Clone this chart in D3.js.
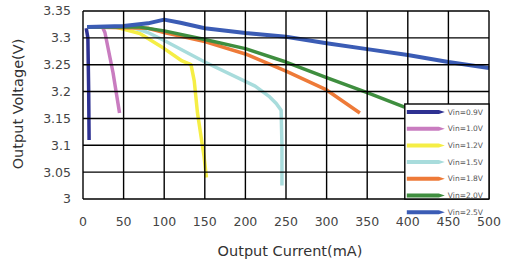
<!DOCTYPE html>
<html>
<head>
<meta charset="utf-8">
<script src="https://cdn.jsdelivr.net/npm/d3@7"></script>
<style>
  body { margin: 0; background: #fff; }
  svg { display: block; }
</style>
</head>
<body>
<div id="chart"></div>
<script>
// Series names and colours (legend order)
const seriesNames = ["Vin=0.9V", "Vin=1.0V", "Vin=1.2V", "Vin=1.5V", "Vin=1.8V", "Vin=2.0V", "Vin=2.5V"];
const seriesColors = ["#2e3192", "#c97cc0", "#f5ee45", "#a8dcdc", "#ee7a38", "#3f8e3f", "#3b5cb5"];

// [output current mA, output voltage V]
const vin09 = [[4, 3.318], [6, 3.3], [7, 3.2], [7.5, 3.11]];
const vin10 = [[5, 3.32], [24, 3.32], [27, 3.31], [37, 3.235], [45, 3.16]];
const vin12 = [[5, 3.32], [40, 3.32], [70, 3.308], [100, 3.28], [122, 3.257], [133, 3.25],
               [137, 3.22], [141, 3.16], [145, 3.12], [149, 3.08], [152, 3.04]];
const vin15 = [[5, 3.32], [60, 3.32], [80, 3.31], [100, 3.295], [150, 3.255], [212, 3.21],
               [230, 3.19], [238, 3.178], [244, 3.165], [245, 3.1], [245, 3.025]];
const vin18 = [[5, 3.32], [80, 3.318], [100, 3.31], [150, 3.293], [200, 3.27], [250, 3.238],
               [300, 3.203], [341, 3.16]];
const vin20 = [[5, 3.32], [70, 3.32], [100, 3.313], [150, 3.297], [200, 3.28], [250, 3.255],
               [300, 3.226], [350, 3.198], [396, 3.171]];
const vin25 = [[5, 3.32], [50, 3.322], [80, 3.327], [100, 3.334], [120, 3.328], [150, 3.318],
               [200, 3.309], [250, 3.302], [300, 3.29], [350, 3.279], [400, 3.268],
               [450, 3.255], [500, 3.244]];
const allSeries = [vin09, vin10, vin12, vin15, vin18, vin20, vin25];

const xTicks = [0, 50, 100, 150, 200, 250, 300, 350, 400, 450, 500];
const yTicks = [3, 3.05, 3.1, 3.15, 3.2, 3.25, 3.3, 3.35];

const W = 510;
const H = 266;
const margem = { top: 11, right: 21, bottom: 67, left: 83 };

const svg = d3.select("#chart").append("svg")
    .attr("width", W)
    .attr("height", H)
    .style("font-family", "'DejaVu Sans', sans-serif");

const x = d3.scaleLinear().domain([0, 500]).range([margem.left, W - margem.right]);
const y = d3.scaleLinear().domain([3, 3.35]).range([H - margem.bottom, margem.top]);

// Tick labels
svg.append("g").selectAll("text")
    .data(xTicks)
    .enter().append("text")
    .attr("x", d => x(d))
    .attr("y", y(3) + 23)
    .attr("dy", "0.35em")
    .attr("text-anchor", "middle")
    .attr("fill", "#444")
    .style("font-size", "12.5px")
    .text(d => d);

svg.append("g").selectAll("text")
    .data(yTicks)
    .enter().append("text")
    .attr("x", x(0) - 12)
    .attr("y", d => y(d))
    .attr("dy", "0.35em")
    .attr("text-anchor", "end")
    .attr("fill", "#444")
    .style("font-size", "12.5px")
    .text(d => String(+d.toFixed(2)));

// Curves
const curveGen = d3.line().x(d => x(d[0])).y(d => y(d[1]));

svg.append("g").selectAll("path")
    .data(allSeries)
    .enter()
    .append("path")
    .attr("d", d => curveGen(d))
    .attr("fill", "none")
    .attr("stroke", (d, i) => seriesColors[i])
    .attr("stroke-width", (d, i) => i === 6 ? 4 : 3.5)
    .attr("stroke-linejoin", "round");

// Grid lines, drawn after the curves
const grid = svg.append("g");
grid.selectAll("line.vx")
    .data(xTicks)
    .enter().append("line")
    .attr("x1", d => x(d)).attr("x2", d => x(d))
    .attr("y1", y(3)).attr("y2", y(3.35))
    .attr("stroke", "#000").attr("stroke-width", 1.4);
grid.selectAll("line.hy")
    .data(yTicks)
    .enter().append("line")
    .attr("x1", x(0)).attr("x2", x(500))
    .attr("y1", d => y(d)).attr("y2", d => y(d))
    .attr("stroke", "#000").attr("stroke-width", 1.4);

// Legend
const legX = x(400) - 3;
const legY = y(3.175) - 1;
const legenda = svg.append("g");
legenda.append("rect")
    .attr("x", legX).attr("y", legY)
    .attr("width", x(500) - legX).attr("height", y(3) - legY)
    .attr("fill", "#fff").attr("stroke", "#000").attr("stroke-width", 1.4);

const rowH = 16.7;
seriesNames.forEach((name, i) => {
    const cy = legY + 8 + i * rowH;
    legenda.append("path")
        .attr("d", `M${legX + 2},${cy - 2} L${legX + 34},${cy - 2} L${legX + 40},${cy} L${legX + 34},${cy + 2} L${legX + 2},${cy + 2} Z`)
        .attr("fill", seriesColors[i]);
    legenda.append("text")
        .attr("x", x(500) - 6)
        .attr("y", cy)
        .attr("dy", "0.35em")
        .attr("text-anchor", "end")
        .attr("fill", "#555")
        .style("font-size", "7.5px")
        .text(name);
});

// Axis titles
svg.append("text")
    .attr("x", 290)
    .attr("y", 251)
    .attr("dy", "0.35em")
    .attr("text-anchor", "middle")
    .attr("fill", "#333")
    .style("font-size", "14.5px")
    .text("Output Current(mA)");

svg.append("text")
    .attr("transform", "translate(18,104) rotate(-90)")
    .attr("dy", "0.35em")
    .attr("text-anchor", "middle")
    .attr("fill", "#333")
    .style("font-size", "14.5px")
    .text("Output Voltage(V)");
</script>
</body>
</html>
